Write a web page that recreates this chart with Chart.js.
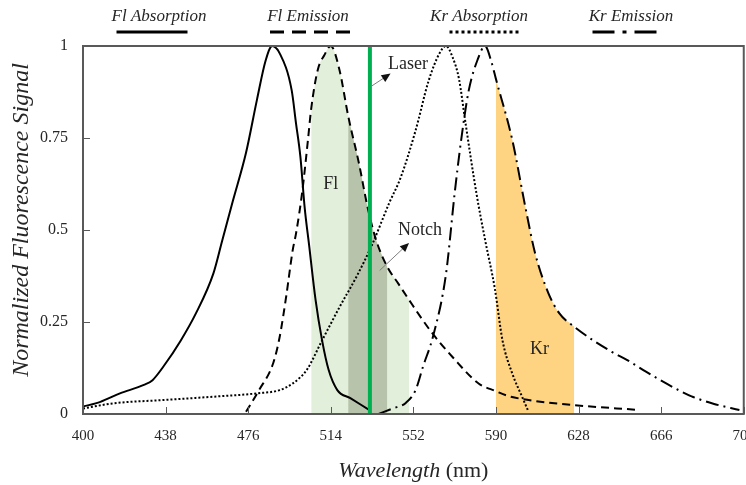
<!DOCTYPE html>
<html>
<head>
<meta charset="utf-8">
<script src="https://cdn.jsdelivr.net/npm/chart.js@4.4.1/dist/chart.umd.min.js"></script>
<style>
  html, body { margin: 0; padding: 0; background: #fff; overflow: hidden; }
  canvas { display: block; }
</style>
</head>
<body>
<canvas id="spectra" width="768" height="485"></canvas>
<script>
// Normalized spectra, wavelength in nm
const flAbsNm  = [400, 408, 417, 428, 432, 437, 445, 452, 460, 464, 469, 475, 480, 484, 487, 490.5, 496, 498, 500, 502, 504, 507, 510, 513, 517, 523, 532];
const flAbsVal = [0.02, 0.033, 0.056, 0.079, 0.092, 0.129, 0.2, 0.274, 0.382, 0.47, 0.58, 0.71, 0.853, 0.96, 1.0, 0.98, 0.88, 0.79, 0.7, 0.56, 0.46, 0.31, 0.2, 0.12, 0.065, 0.043, 0.01];

const flEmNm  = [475, 481, 487.5, 490.5, 493.5, 496.5, 498, 501, 503.5, 505, 508, 511, 514, 518, 522, 527, 531, 535, 540, 545, 550, 560, 570, 582, 590, 595, 605, 626, 656];
const flEmVal = [0.006, 0.065, 0.138, 0.21, 0.32, 0.446, 0.49, 0.61, 0.745, 0.83, 0.935, 0.975, 1.0, 0.935, 0.81, 0.68, 0.56, 0.47, 0.4, 0.355, 0.31, 0.225, 0.155, 0.083, 0.062, 0.05, 0.038, 0.024, 0.011];

const krAbsNm  = [400, 414, 437, 460, 480, 490.5, 496.5, 500, 503, 510, 518, 526, 533, 541, 546, 553, 559, 564, 567, 570, 573, 576, 581, 585, 589.5, 593, 597.5, 602, 605];
const krAbsVal = [0.015, 0.029, 0.038, 0.047, 0.056, 0.065, 0.083, 0.1, 0.12, 0.2, 0.29, 0.375, 0.46, 0.575, 0.64, 0.77, 0.905, 0.98, 1.0, 0.97, 0.91, 0.79, 0.6, 0.473, 0.34, 0.2, 0.11, 0.047, 0.006];

const krEmNm  = [536, 542.5, 548.5, 553, 556.5, 561, 567, 571, 574, 577.5, 581.5, 585, 588, 590, 597.5, 603.5, 608, 614, 619, 626, 643.5, 650, 659, 665, 674, 680, 690, 702];
const krEmVal = [0, 0.015, 0.03, 0.065, 0.13, 0.21, 0.38, 0.6, 0.745, 0.88, 0.962, 1.0, 0.955, 0.91, 0.745, 0.563, 0.437, 0.33, 0.275, 0.237, 0.168, 0.148, 0.115, 0.094, 0.065, 0.048, 0.028, 0.011];

// detection bands and laser line (nm)
const laserNm   = 532;
const flBand    = [505, 550];
const notchBand = [522, 540];
const krBand    = [590, 626];

const xTicks = [400, 438, 476, 514, 552, 590, 628, 666, 704];
const yTicks = [0, 0.25, 0.5, 0.75, 1];

const SERIF = '"Liberation Serif", "Times New Roman", serif';
const INK = '#262626';

const pts = (xs, ys) => xs.map((x, i) => ({ x, y: ys[i] }));
const inBand = (xs, ys, [lo, hi]) => pts(xs, ys).filter(p => p.x >= lo && p.x <= hi);

function curve(label, xs, ys, dash) {
  return {
    label, data: pts(xs, ys),
    borderColor: '#000', borderWidth: 2, borderDash: dash,
    pointRadius: 0, fill: false, cubicInterpolationMode: 'monotone'
  };
}
function shade(data, color) {
  return {
    data, backgroundColor: color, borderWidth: 0,
    pointRadius: 0, fill: 'origin', cubicInterpolationMode: 'monotone'
  };
}

// text labels and arrows inside the plot, in data coordinates
const notes = [
  { text: 'Laser', at: [549.5, 0.95], from: [532.5, 0.89], to: [541.5, 0.925] },
  { text: 'Notch', at: [555, 0.5], from: [536.5, 0.39], to: [550, 0.465] },
  { text: 'Fl', at: [514, 0.625] },
  { text: 'Kr', at: [610, 0.175] }
];

// legend row across the top: text centre, sample line centre/width, sample dash
const legendSpots = [
  { textX: 159, lineX: 152, lineW: 71, dash: [] },
  { textX: 308, lineX: 310, lineW: 80, dash: [14, 8] },
  { textX: 479, lineX: 484, lineW: 69, dash: [3, 3] },
  { textX: 631, lineX: 628, lineW: 71, dash: [22, 8, 4, 8] }
];

function arrow(ctx, x0, y0, x1, y1) {
  const a = Math.atan2(y1 - y0, x1 - x0), c = Math.cos(a), s = Math.sin(a);
  ctx.strokeStyle = '#7f7f7f';
  ctx.lineWidth = 1;
  ctx.setLineDash([]);
  ctx.beginPath();
  ctx.moveTo(x0, y0);
  ctx.lineTo(x1 - 6 * c, y1 - 6 * s);
  ctx.stroke();
  ctx.fillStyle = '#111';
  ctx.beginPath();
  ctx.moveTo(x1, y1);
  ctx.lineTo(x1 - 9 * c + 4 * s, y1 - 9 * s - 4 * c);
  ctx.lineTo(x1 - 9 * c - 4 * s, y1 - 9 * s + 4 * c);
  ctx.closePath();
  ctx.fill();
}

const decor = {
  id: 'decor',
  afterDatasetsDraw(chart) {
    const { ctx, chartArea: a, scales: { x, y } } = chart;
    ctx.save();
    ctx.setLineDash([]);
    // tick marks point into the plot
    ctx.strokeStyle = '#595959';
    ctx.lineWidth = 1;
    x.ticks.forEach(t => {
      const px = Math.round(x.getPixelForValue(t.value)) + 0.5;
      ctx.beginPath(); ctx.moveTo(px, a.bottom); ctx.lineTo(px, a.bottom - 7); ctx.stroke();
    });
    y.ticks.forEach(t => {
      const py = Math.round(y.getPixelForValue(t.value)) + 0.5;
      ctx.beginPath(); ctx.moveTo(a.left, py); ctx.lineTo(a.left + 7, py); ctx.stroke();
    });
    ctx.lineWidth = 2;
    ctx.strokeRect(a.left, a.top, a.right - a.left, a.bottom - a.top);

    notes.forEach(n => {
      if (n.from) {
        arrow(ctx, x.getPixelForValue(n.from[0]), y.getPixelForValue(n.from[1]),
                   x.getPixelForValue(n.to[0]), y.getPixelForValue(n.to[1]));
      }
      ctx.fillStyle = INK;
      ctx.font = '18px ' + SERIF;
      ctx.textAlign = 'center';
      ctx.textBaseline = 'middle';
      ctx.fillText(n.text, x.getPixelForValue(n.at[0]), y.getPixelForValue(n.at[1]));
    });
    ctx.restore();
  },
  afterDraw(chart) {
    const { ctx, chartArea: a } = chart;
    ctx.save();
    // legend
    const lines = chart.data.datasets.filter(d => d.label);
    lines.forEach((d, i) => {
      const spot = legendSpots[i];
      ctx.fillStyle = INK;
      ctx.font = 'italic 17px ' + SERIF;
      ctx.textAlign = 'center';
      ctx.textBaseline = 'alphabetic';
      ctx.fillText(d.label, spot.textX, 21);
      ctx.strokeStyle = '#000';
      ctx.lineWidth = 3;
      ctx.setLineDash(spot.dash);
      ctx.beginPath();
      ctx.moveTo(spot.lineX - spot.lineW / 2, 32);
      ctx.lineTo(spot.lineX + spot.lineW / 2, 32);
      ctx.stroke();
    });
    ctx.setLineDash([]);

    // x axis title: italic word followed by upright unit
    ctx.fillStyle = INK;
    ctx.textBaseline = 'alphabetic';
    ctx.textAlign = 'left';
    const word = 'Wavelength', unit = ' (nm)';
    ctx.font = 'italic 22px ' + SERIF;
    const w1 = ctx.measureText(word).width;
    ctx.font = '22px ' + SERIF;
    const w2 = ctx.measureText(unit).width;
    const x0 = (a.left + a.right) / 2 - (w1 + w2) / 2;
    ctx.font = 'italic 22px ' + SERIF;
    ctx.fillText(word, x0, 477);
    ctx.font = '22px ' + SERIF;
    ctx.fillText(unit, x0 + w1, 477);

    // y axis title
    ctx.translate(28, 220);
    ctx.rotate(-Math.PI / 2);
    ctx.textAlign = 'center';
    ctx.font = 'italic 24px ' + SERIF;
    ctx.fillText('Normalized Fluorescence Signal', 0, 0);
    ctx.restore();
  }
};

new Chart(document.getElementById('spectra'), {
  type: 'line',
  data: {
    datasets: [
      {
        data: [{ x: laserNm, y: 0 }, { x: laserNm, y: 1 }],
        borderColor: '#00b050', borderWidth: 4, pointRadius: 0, tension: 0, fill: false
      },
      curve('Fl Absorption', flAbsNm, flAbsVal, []),
      curve('Fl Emission', flEmNm, flEmVal, [8, 5]),
      curve('Kr Absorption', krAbsNm, krAbsVal, [2, 2]),
      curve('Kr Emission', krEmNm, krEmVal, [13, 5, 2, 5]),
      shade(inBand(flEmNm, flEmVal, notchBand), '#b8c3ab'),
      shade(inBand(flEmNm, flEmVal, flBand), '#e2efda'),
      shade(inBand(krEmNm, krEmVal, krBand), '#fed381')
    ]
  },
  options: {
    responsive: false,
    animation: false,
    layout: { padding: { top: 46, right: 0, left: 0, bottom: 0 } },
    plugins: { legend: { display: false }, tooltip: { enabled: false } },
    scales: {
      x: {
        type: 'linear', min: 400, max: 704,
        afterBuildTicks: s => { s.ticks = xTicks.map(v => ({ value: v })); },
        afterFit: s => { s.height = 71; },
        grid: { display: false, drawTicks: false },
        border: { display: false },
        ticks: { padding: 13, color: INK, font: { family: SERIF, size: 15 }, maxRotation: 0, autoSkip: false }
      },
      y: {
        min: 0, max: 1,
        afterBuildTicks: s => { s.ticks = yTicks.map(v => ({ value: v })); },
        afterFit: s => { s.width = 83; },
        grid: { display: false, drawTicks: false },
        border: { display: false },
        ticks: { padding: 15, color: INK, font: { family: SERIF, size: 16 }, callback: v => String(v) }
      }
    }
  },
  plugins: [decor]
});
</script>
</body>
</html>
